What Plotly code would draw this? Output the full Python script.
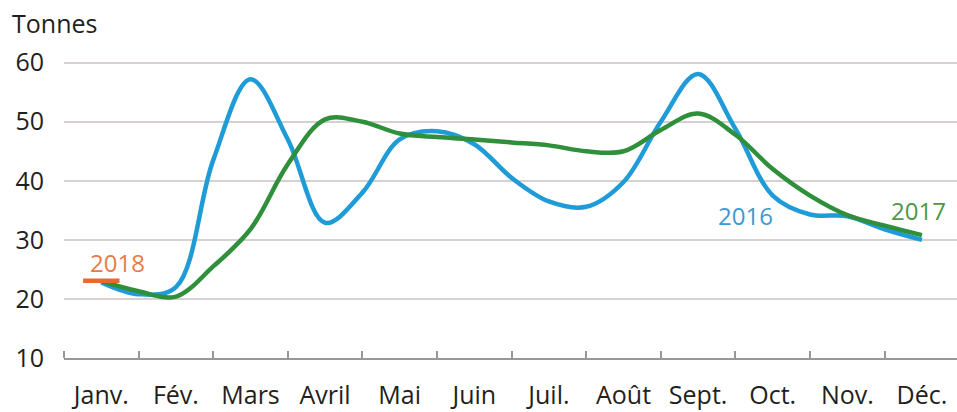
import plotly.graph_objects as go

months = ["Janv.", "Fév.", "Mars", "Avril", "Mai", "Juin", "Juil.", "Août", "Sept.", "Oct.", "Nov.", "Déc."]

# Values read every half month (x = month index, 0 = Janv.)
half_month_x = [i / 2 for i in range(23)]
tonnes_2016 = [22.8, 20.8, 22.0, 43.5, 57.2, 47.0, 32.9, 38.0, 47.0, 48.4, 46.2, 40.5,
               36.5, 35.6, 39.8, 50.0, 58.1, 48.8, 37.5, 34.3, 34.0, 31.8, 30.0]
tonnes_2017 = [23.0, 21.3, 20.4, 25.5, 31.8, 42.8, 50.4, 50.0, 48.0, 47.4, 47.0, 46.5,
               46.0, 45.0, 45.0, 48.6, 51.4, 47.8, 42.0, 37.5, 34.2, 32.4, 30.8]
x_2018 = [0]
tonnes_2018 = [23.1]

BLUE = "#1f9bd7"
GREEN = "#2f8f3a"
ORANGE = "#e8692d"
FONT = "Open Sans"
TEXT = "#231f20"

fig = go.Figure()
fig.add_trace(go.Scatter(x=half_month_x, y=tonnes_2016, mode="lines",
                         line=dict(color=BLUE, width=4.5, shape="spline", smoothing=1.0),
                         name="2016", hoverinfo="skip"))
fig.add_trace(go.Scatter(x=half_month_x, y=tonnes_2017, mode="lines",
                         line=dict(color=GREEN, width=4.5, shape="spline", smoothing=1.0),
                         name="2017", hoverinfo="skip"))
fig.add_trace(go.Scatter(x=x_2018, y=tonnes_2018, mode="markers",
                         marker=dict(symbol="line-ew", size=26,
                                     line=dict(color=ORANGE, width=4.5)),
                         name="2018", hoverinfo="skip"))

fig.update_layout(
    width=957, height=412,
    margin=dict(l=64, r=0, t=55, b=54, autoexpand=False),
    paper_bgcolor="white", plot_bgcolor="white",
    showlegend=False,
    font=dict(family=FONT, color=TEXT),
    xaxis=dict(
        automargin=False,
        range=[-0.5, 11.47],
        tickmode="array", tickvals=list(range(12)), ticktext=months,
        ticks="", showgrid=False, zeroline=False,
        showline=True, linecolor="#9b9595", linewidth=2,
        tickfont=dict(size=25, family=FONT, color=TEXT),
        ticklabelstandoff=14,
        minor=dict(tickmode="linear", tick0=-0.5, dtick=1, ticks="inside",
                   ticklen=7, tickwidth=1.5, tickcolor="#9b9595", showgrid=False),
    ),
    yaxis=dict(
        automargin=False,
        range=[10, 61.3],
        tickmode="array", tickvals=[10, 20, 30, 40, 50, 60],
        ticks="", showgrid=True, gridcolor="#d6d1d1", gridwidth=2,
        zeroline=False, showline=False,
        tickfont=dict(size=25, family=FONT, color=TEXT),
        ticklabelstandoff=19,
    ),
    annotations=[
        dict(text="Tonnes", xref="paper", yref="paper", x=-0.06, y=1.0,
             xanchor="left", yanchor="middle", yshift=32, showarrow=False,
             font=dict(size=25, family=FONT, color=TEXT)),
        dict(text="2018", x=0.22, y=26.1, showarrow=False,
             font=dict(size=24, family=FONT, color="#e87b45")),
        dict(text="2016", x=8.63, y=34.2, showarrow=False,
             font=dict(size=24, family=FONT, color="#3a9ad4")),
        dict(text="2017", x=10.95, y=34.9, showarrow=False,
             font=dict(size=24, family=FONT, color="#4b9845")),
    ],
)

fig.write_html("out.html",
               config={"displayModeBar": False},
               post_script="document.body.style.margin='0';document.body.style.overflow='hidden';")
